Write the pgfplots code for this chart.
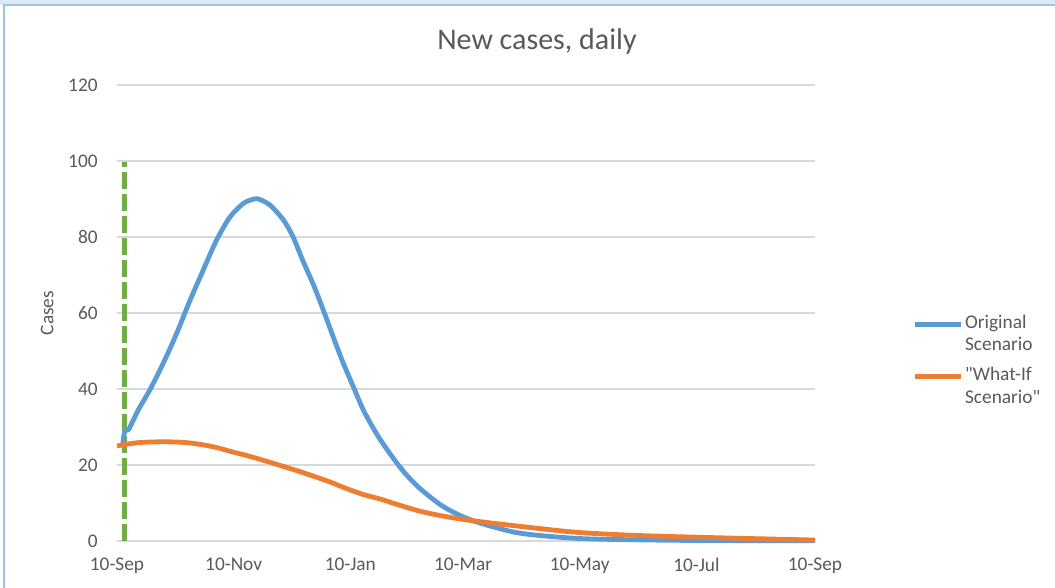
\documentclass[border=0pt]{standalone}
\usepackage{fontspec}
\setmainfont{Carlito}[Ligatures=TeXOff]
\usepackage{pgfplots}
\pgfplotsset{compat=1.18}
\definecolor{cblue}{HTML}{5B9BD5}
\definecolor{corange}{HTML}{ED7D31}
\definecolor{cgreen}{HTML}{70AD47}
\definecolor{cgrid}{HTML}{D9D9D9}
\definecolor{ctext}{HTML}{595959}
\definecolor{cframe}{HTML}{9DC3E6}
\begin{document}
\begin{tikzpicture}
\path[use as bounding box] (0pt,0pt) rectangle (791.25pt,441pt);
\fill[cframe!35] (0pt,437.25pt) rectangle (791.25pt,441pt);
\draw[cframe, line width=1.2pt] (3pt,-5pt) -- (3pt,437.25pt) -- (795pt,437.25pt);
\begin{axis}[
  at={(87.75pt,35.25pt)}, anchor=south west,
  scale only axis, width=523.5pt, height=342pt,
  xmin=0, xmax=365, ymin=0, ymax=120,
  axis line style={draw=none},
  xtick={0,61,122,181,242,303,365},
  xticklabels={10-Sep,10-Nov,10-Jan,10-Mar,10-May,10-Jul,10-Sep},
  ytick={0,20,40,60,80,100,120},
  ymajorgrids, grid style={cgrid, line width=0.9pt},
  major tick length=0pt,
  tick label style={font=\fontsize{14.5}{16}\selectfont, text=ctext},
  /pgf/number format/assume math mode=true,
  yticklabel style={xshift=-11pt},
  xticklabel style={yshift=-9.5pt},
  ylabel={Cases}, ylabel style={font=\fontsize{14.5}{16}\selectfont, text=ctext, at={(axis description cs:-0.1,0.5)}, anchor=center},
  clip=false,
  legend style={at={(axis description cs:1.139,0.505)}, anchor=north west, draw=none, fill=none,
     font=\fontsize{14.5}{17}\selectfont, text=ctext, row sep=24pt, inner sep=0pt,
     nodes={inner sep=1pt, anchor=base west}},
  legend cell align=left,
  legend image code/.code={\draw[#1] (0pt,0.3em) -- (35pt,0.3em);},
]
\addplot[cgreen, line width=3.7pt, dash pattern=on 12.5pt off 4pt, forget plot] coordinates {(4,0) (4,99.8)};
\addplot[cblue, line width=3.6pt, line join=round, smooth, tension=0.5] coordinates {
(3,25.3) (4,28.8) (6,29.3) (8.5,31.8) (12,35.3) (17,39.6) (24,46.6) (31,54.4) (38,63.1) (45,71.2) (52,79.1) (59,85.2) (66,88.8) (71,89.9) (74,90) (80,88.4) (87,84.5) (92,80.1) (97,74.0) (103,67.1) (108,60.6) (113,53.8) (118,47.2) (124,40.1) (129,34.3) (136,28) (143,22.8) (150,18.2) (158,14.0) (169,9.6) (179,6.8) (190,4.7) (207,2.4) (220,1.5) (240,0.7) (260,0.4) (300,0.15) (365,0.05)};
\addlegendentry{\begin{tabular}[t]{@{}l@{}}Original\\Scenario\end{tabular}}
\addplot[corange, line width=3.6pt, line join=round, smooth, tension=0.5] coordinates {
(0,25) (8,25.7) (15,26) (26,26.1) (36,25.9) (45,25.3) (52,24.6) (60,23.5) (70,22.2) (80,20.7) (96,18.2) (111,15.6) (120,13.8) (129,12.2) (138,11.0) (146,9.7) (158,7.9) (170,6.6) (185,5.4) (210,3.9) (240,2.3) (270,1.5) (303,1.0) (335,0.6) (365,0.25)};
\addlegendentry{\begin{tabular}[t]{@{}l@{}}"What-If\\Scenario"\end{tabular}}
\end{axis}
\node[font=\fontsize{22.5}{26}\selectfont, text=ctext] at (402.75pt,409.5pt) {New cases, daily};
\end{tikzpicture}
\end{document}
